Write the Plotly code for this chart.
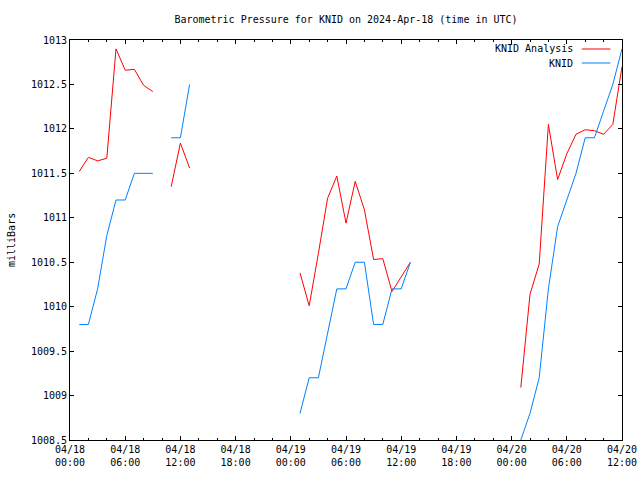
import plotly.graph_objects as go
from datetime import datetime, timedelta

# hours after 2024-04-18 00:00 UTC
hours = list(range(0, 61))

analysis = [
    None, 1011.52, 1011.68, 1011.64, 1011.67, 1012.90, 1012.66, 1012.67, 1012.49, 1012.42,
    None, 1011.35, 1011.84, 1011.56,
    None, None, None, None, None, None, None, None, None, None, None,
    1010.38, 1010.01, 1010.60, 1011.22, 1011.47, 1010.94, 1011.41, 1011.09, 1010.53, 1010.54,
    1010.17, 1010.33, 1010.50,
    None, None, None, None, None, None, None, None, None, None, None,
    1009.09, 1010.14, 1010.48, 1012.05, 1011.43, 1011.72, 1011.94, 1011.99, 1011.98, 1011.94,
    1012.05, 1012.70,
]

observed = [
    None, 1009.8, 1009.8, 1010.2, 1010.8, 1011.2, 1011.2, 1011.5, 1011.5, 1011.5,
    None, 1011.9, 1011.9, 1012.5,
    None, None, None, None, None, None, None, None, None, None, None,
    1008.8, 1009.2, 1009.2, 1009.7, 1010.2, 1010.2, 1010.5, 1010.5, 1009.8, 1009.8,
    1010.2, 1010.2, 1010.5,
    None, None, None, None, None, None, None, None, None, None, None,
    1008.5, 1008.8, 1009.2, 1010.2, 1010.9, 1011.2, 1011.5, 1011.9, 1011.9, 1012.2,
    1012.5, 1012.9,
]

y_tick_values = [1008.5, 1009, 1009.5, 1010, 1010.5, 1011, 1011.5, 1012, 1012.5, 1013]
y_tick_labels = ["1008.5", "1009", "1009.5", "1010", "1010.5", "1011", "1011.5",
                 "1012", "1012.5", "1013"]

series_names = ["KNID Analysis", "KNID"]
series_colors = ["#ff0000", "#0080ff"]

start = datetime(2024, 4, 18, 0, 0)
times = [start + timedelta(hours=h) for h in hours]

FONT = "DejaVu Sans Mono"
W, H = 640, 480
ML, MR, MT, MB = 70, 18, 40, 40
PW = W - ML - MR

fig = go.Figure()
for vals, name, col in zip([analysis, observed], series_names, series_colors):
    fig.add_trace(go.Scatter(x=times, y=vals, mode="lines", name=name,
                             line=dict(color=col, width=1), connectgaps=False,
                             showlegend=False))

# gnuplot-style legend (text right-aligned, sample line to the right)
leg_y = [0.9775, 0.9425]
for name, col, yy in zip(series_names, series_colors, leg_y):
    fig.add_annotation(x=0.915, y=yy, xref="paper", yref="paper", text=name,
                       showarrow=False, xanchor="right", yanchor="middle",
                       font=dict(family=FONT, size=10, color="black"))
    fig.add_shape(type="line", xref="paper", yref="paper", x0=0.927, x1=0.979,
                  y0=yy, y1=yy, line=dict(color=col, width=1))

fig.add_annotation(x=(11 - ML) / PW, y=0.5, xref="paper", yref="paper", text="milliBars",
                   showarrow=False, textangle=-90, xanchor="center", yanchor="middle",
                   font=dict(family=FONT, size=10, color="black"))

fig.update_layout(
    width=W, height=H,
    margin=dict(l=ML, r=MR, t=MT, b=MB, autoexpand=False),
    paper_bgcolor="white", plot_bgcolor="white",
    font=dict(family=FONT, size=10, color="black"),
    title=dict(text="Barometric Pressure for KNID on 2024-Apr-18 (time in UTC)",
               x=0.5, xref="paper", y=1 - 19 / H, yref="container", xanchor="center",
               yanchor="middle", automargin=False,
               font=dict(family=FONT, size=10, color="black")),
)

fig.update_xaxes(
    type="date", automargin=False,
    range=[start, start + timedelta(hours=60)],
    tick0=start, dtick=6 * 3600 * 1000,
    tickformat="%m/%d<br>%H:%M",
    ticks="inside", ticklen=4, tickcolor="black",
    minor=dict(dtick=2 * 3600 * 1000, ticks="inside", ticklen=2, tickcolor="black"),
    showline=True, linecolor="black", linewidth=1, mirror="ticks",
    showgrid=False, zeroline=False,
    tickfont=dict(family=FONT, size=10, color="black"),
)
fig.update_yaxes(
    automargin=False,
    range=[1008.5, 1013], tickmode="array",
    tickvals=y_tick_values, ticktext=y_tick_labels,
    ticks="inside", ticklen=4, tickcolor="black",
    showline=True, linecolor="black", linewidth=1, mirror="ticks",
    showgrid=False, zeroline=False,
    tickfont=dict(family=FONT, size=10, color="black"),
)

fig.write_html("out.html", config={"displayModeBar": False},
               post_script="document.body.style.margin='0';document.body.style.overflow='hidden';")
